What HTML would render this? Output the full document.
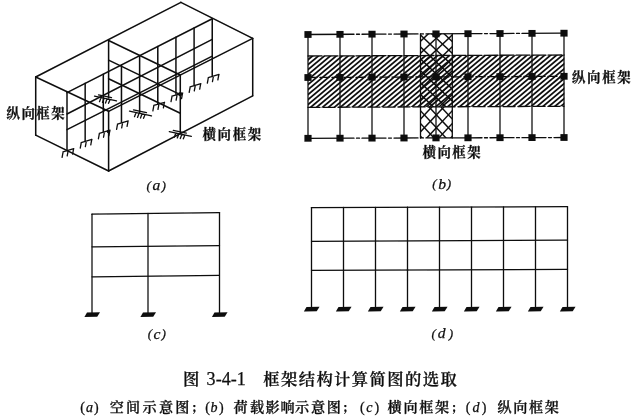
<!DOCTYPE html>
<html lang="zh-CN">
<head>
<meta charset="utf-8">
<title>图 3-4-1 框架结构计算简图的选取</title>
<style>
html,body{margin:0;padding:0;background:#fff;}
body{width:640px;height:418px;overflow:hidden;position:relative;font-family:"Liberation Serif","Noto Serif CJK SC",serif;color:#111;}
svg{position:absolute;left:0;top:0;display:block;}
.ln line,.ln path{stroke:#0c0c0c;stroke-width:1.3;fill:none;stroke-linecap:round;}
.la line{stroke-width:1.5;}
.sup path{stroke-width:1.3;}
text{font-family:"Liberation Serif","Noto Serif CJK SC",serif;fill:#0c0c0c;stroke:#0c0c0c;stroke-width:0.25px;stroke-linejoin:round;}
.it{font-style:italic;}
</style>
</head>
<body>
<svg width="640" height="418" viewBox="0 0 640 418">
<defs>
<filter id="soft" x="-2%" y="-2%" width="104%" height="104%"><feGaussianBlur stdDeviation="0.42"/></filter>
</defs>
<rect width="640" height="418" fill="#fff"/>
<g filter="url(#soft)">
<g id="fig-a" class="ln la">
<line x1="35.7" y1="77" x2="35.7" y2="135.2"/>
<line x1="35.7" y1="135.2" x2="108.6" y2="171"/>
<line x1="108.6" y1="171" x2="108.6" y2="111.3"/>
<line x1="35.7" y1="77" x2="108.6" y2="111.3"/>
<line x1="35.7" y1="77" x2="180.9" y2="2.3"/>
<line x1="180.9" y1="2.3" x2="252.7" y2="38.4"/>
<line x1="252.7" y1="38.4" x2="252.7" y2="95.8"/>
<line x1="108.6" y1="171" x2="252.7" y2="95.8"/>
<line x1="108.6" y1="111.3" x2="252.7" y2="38.4"/>
<line x1="67" y1="92.6" x2="212.25" y2="18.75"/>
<line x1="67" y1="114" x2="212.25" y2="39.4"/>
<line x1="67" y1="129.6" x2="212.25" y2="56.2"/>
<line x1="67" y1="92.6" x2="67" y2="150"/>
<line x1="85.16" y1="83.37" x2="85.16" y2="140.72"/>
<line x1="103.31" y1="74.14" x2="103.31" y2="131.44"/>
<line x1="121.47" y1="64.91" x2="121.47" y2="122.16"/>
<line x1="139.62" y1="55.67" x2="139.62" y2="112.88"/>
<line x1="157.78" y1="46.44" x2="157.78" y2="103.59"/>
<line x1="175.94" y1="37.21" x2="175.94" y2="94.31"/>
<line x1="194.09" y1="27.98" x2="194.09" y2="85.03"/>
<line x1="212.25" y1="18.75" x2="212.25" y2="75.75"/>
<line x1="108.6" y1="40.5" x2="180.3" y2="75"/>
<line x1="108.6" y1="60.1" x2="180.3" y2="94.6"/>
<line x1="108.6" y1="78.8" x2="180.3" y2="113.3"/>
<line x1="108.6" y1="40.5" x2="108.6" y2="98"/>
<line x1="180.3" y1="75" x2="180.3" y2="133"/>
</g>
<g id="fig-a-sup" class="ln sup">
<path d="M63 151.9l10.8-3.2M63.1 151.9l-1 5.4M68.2 150.4l-1 5.4M73.6 148.8l-1 5.4"/>
<path d="M81.16 142.62l10.8-3.2M81.26 142.62l-1 5.4M86.36 141.12l-1 5.4M91.76 139.52l-1 5.4"/>
<path d="M99.31 133.34l10.8-3.2M99.41 133.34l-1 5.4M104.51 131.84l-1 5.4M109.91 130.24l-1 5.4"/>
<path d="M117.47 124.06l10.8-3.2M117.57 124.06l-1 5.4M122.67 122.56l-1 5.4M128.07 120.96l-1 5.4"/>
<path d="M153.78 105.49l10.8-3.2M153.88 105.49l-1 5.4M158.98 103.99l-1 5.4M164.38 102.39l-1 5.4"/>
<path d="M171.94 96.21l10.8-3.2M172.04 96.21l-1 5.4M177.14 94.71l-1 5.4M182.54 93.11l-1 5.4"/>
<path d="M190.09 86.93l10.8-3.2M190.19 86.93l-1 5.4M195.29 85.43l-1 5.4M200.69 83.83l-1 5.4"/>
<path d="M208.25 77.65l10.8-3.2M208.35 77.65l-1 5.4M213.45 76.15l-1 5.4M218.85 74.55l-1 5.4"/>
<path d="M94.5 96.1l22 4.8M98.5 94.9l13 2.8M101 97.7l-1.5 4M104 98.4l-1.5 4M107 99.1l-1.5 4M110 99.7l-1.5 3.6"/>
<path d="M129.5 111.1l22 4.8M133.5 109.9l13 2.8M136 112.7l-1.5 4M139 113.4l-1.5 4M142 114.1l-1.5 4M145 114.7l-1.5 3.6"/>
<path d="M169.3 131.6l22 4.8M173.3 130.4l13 2.8M175.8 133.2l-1.5 4M178.8 133.9l-1.5 4M181.8 134.6l-1.5 4M184.8 135.2l-1.5 3.6"/>
</g>
<circle cx="180.2" cy="94.2" r="2.1" fill="#0c0c0c"/>
<circle cx="108.4" cy="131.5" r="1.7" fill="#0c0c0c"/>
<g id="fig-b">
<clipPath id="cb"><polygon points="308,56 564.3,55 564.3,106.3 308,107.4"/></clipPath>
<g clip-path="url(#cb)" stroke="#0c0c0c" stroke-width="1.75">
<line x1="264.47" y1="51.5" x2="188.19" y2="115.5"/>
<line x1="270.4" y1="51.5" x2="194.12" y2="115.5"/>
<line x1="276.33" y1="51.5" x2="200.05" y2="115.5"/>
<line x1="282.26" y1="51.5" x2="205.98" y2="115.5"/>
<line x1="288.19" y1="51.5" x2="211.91" y2="115.5"/>
<line x1="294.12" y1="51.5" x2="217.84" y2="115.5"/>
<line x1="300.05" y1="51.5" x2="223.77" y2="115.5"/>
<line x1="305.98" y1="51.5" x2="229.7" y2="115.5"/>
<line x1="311.91" y1="51.5" x2="235.63" y2="115.5"/>
<line x1="317.84" y1="51.5" x2="241.56" y2="115.5"/>
<line x1="323.77" y1="51.5" x2="247.49" y2="115.5"/>
<line x1="329.7" y1="51.5" x2="253.42" y2="115.5"/>
<line x1="335.63" y1="51.5" x2="259.35" y2="115.5"/>
<line x1="341.56" y1="51.5" x2="265.28" y2="115.5"/>
<line x1="347.49" y1="51.5" x2="271.21" y2="115.5"/>
<line x1="353.42" y1="51.5" x2="277.14" y2="115.5"/>
<line x1="359.35" y1="51.5" x2="283.07" y2="115.5"/>
<line x1="365.28" y1="51.5" x2="289" y2="115.5"/>
<line x1="371.21" y1="51.5" x2="294.93" y2="115.5"/>
<line x1="377.14" y1="51.5" x2="300.86" y2="115.5"/>
<line x1="383.07" y1="51.5" x2="306.79" y2="115.5"/>
<line x1="389" y1="51.5" x2="312.72" y2="115.5"/>
<line x1="394.93" y1="51.5" x2="318.65" y2="115.5"/>
<line x1="400.86" y1="51.5" x2="324.58" y2="115.5"/>
<line x1="406.79" y1="51.5" x2="330.51" y2="115.5"/>
<line x1="412.72" y1="51.5" x2="336.44" y2="115.5"/>
<line x1="418.65" y1="51.5" x2="342.37" y2="115.5"/>
<line x1="424.58" y1="51.5" x2="348.3" y2="115.5"/>
<line x1="430.51" y1="51.5" x2="354.23" y2="115.5"/>
<line x1="436.44" y1="51.5" x2="360.16" y2="115.5"/>
<line x1="442.37" y1="51.5" x2="366.09" y2="115.5"/>
<line x1="448.3" y1="51.5" x2="372.02" y2="115.5"/>
<line x1="454.23" y1="51.5" x2="377.95" y2="115.5"/>
<line x1="460.16" y1="51.5" x2="383.88" y2="115.5"/>
<line x1="466.09" y1="51.5" x2="389.81" y2="115.5"/>
<line x1="472.02" y1="51.5" x2="395.74" y2="115.5"/>
<line x1="477.95" y1="51.5" x2="401.67" y2="115.5"/>
<line x1="483.88" y1="51.5" x2="407.6" y2="115.5"/>
<line x1="489.81" y1="51.5" x2="413.53" y2="115.5"/>
<line x1="495.74" y1="51.5" x2="419.46" y2="115.5"/>
<line x1="501.67" y1="51.5" x2="425.39" y2="115.5"/>
<line x1="507.6" y1="51.5" x2="431.32" y2="115.5"/>
<line x1="513.53" y1="51.5" x2="437.25" y2="115.5"/>
<line x1="519.46" y1="51.5" x2="443.18" y2="115.5"/>
<line x1="525.39" y1="51.5" x2="449.11" y2="115.5"/>
<line x1="531.32" y1="51.5" x2="455.04" y2="115.5"/>
<line x1="537.25" y1="51.5" x2="460.97" y2="115.5"/>
<line x1="543.18" y1="51.5" x2="466.9" y2="115.5"/>
<line x1="549.11" y1="51.5" x2="472.83" y2="115.5"/>
<line x1="555.04" y1="51.5" x2="478.76" y2="115.5"/>
<line x1="560.97" y1="51.5" x2="484.69" y2="115.5"/>
<line x1="566.9" y1="51.5" x2="490.62" y2="115.5"/>
<line x1="572.83" y1="51.5" x2="496.55" y2="115.5"/>
<line x1="578.76" y1="51.5" x2="502.48" y2="115.5"/>
<line x1="584.69" y1="51.5" x2="508.41" y2="115.5"/>
<line x1="590.62" y1="51.5" x2="514.34" y2="115.5"/>
<line x1="596.55" y1="51.5" x2="520.27" y2="115.5"/>
<line x1="602.48" y1="51.5" x2="526.2" y2="115.5"/>
<line x1="608.41" y1="51.5" x2="532.13" y2="115.5"/>
<line x1="614.34" y1="51.5" x2="538.06" y2="115.5"/>
<line x1="620.27" y1="51.5" x2="543.99" y2="115.5"/>
<line x1="626.2" y1="51.5" x2="549.92" y2="115.5"/>
<line x1="632.13" y1="51.5" x2="555.85" y2="115.5"/>
<line x1="638.06" y1="51.5" x2="561.78" y2="115.5"/>
<line x1="643.99" y1="51.5" x2="567.71" y2="115.5"/>
</g>
<clipPath id="cx1"><rect x="420.3" y="33.5" width="32.2" height="73.6"/></clipPath>
<clipPath id="cx2"><rect x="420.3" y="107.1" width="32.2" height="31"/></clipPath>
<g clip-path="url(#cx1)" stroke="#0c0c0c" stroke-width="1.45">
<line x1="280.84" y1="33" x2="359.62" y2="108"/>
<line x1="293.34" y1="33" x2="372.12" y2="108"/>
<line x1="305.84" y1="33" x2="384.62" y2="108"/>
<line x1="318.34" y1="33" x2="397.12" y2="108"/>
<line x1="330.84" y1="33" x2="409.62" y2="108"/>
<line x1="343.34" y1="33" x2="422.12" y2="108"/>
<line x1="355.84" y1="33" x2="434.62" y2="108"/>
<line x1="368.34" y1="33" x2="447.12" y2="108"/>
<line x1="380.84" y1="33" x2="459.62" y2="108"/>
<line x1="393.34" y1="33" x2="472.12" y2="108"/>
<line x1="405.84" y1="33" x2="484.62" y2="108"/>
<line x1="418.34" y1="33" x2="497.12" y2="108"/>
<line x1="430.84" y1="33" x2="509.62" y2="108"/>
<line x1="443.34" y1="33" x2="522.12" y2="108"/>
<line x1="455.84" y1="33" x2="534.62" y2="108"/>
<line x1="468.34" y1="33" x2="547.12" y2="108"/>
<line x1="480.84" y1="33" x2="559.62" y2="108"/>
<line x1="493.34" y1="33" x2="572.12" y2="108"/>
<line x1="505.84" y1="33" x2="584.62" y2="108"/>
<line x1="518.34" y1="33" x2="597.12" y2="108"/>
<line x1="530.84" y1="33" x2="609.62" y2="108"/>
<line x1="543.34" y1="33" x2="622.12" y2="108"/>
<line x1="555.84" y1="33" x2="634.62" y2="108"/>
<line x1="568.34" y1="33" x2="647.12" y2="108"/>
<line x1="580.84" y1="33" x2="659.62" y2="108"/>
<line x1="291.76" y1="33" x2="212.98" y2="108"/>
<line x1="304.26" y1="33" x2="225.48" y2="108"/>
<line x1="316.76" y1="33" x2="237.98" y2="108"/>
<line x1="329.26" y1="33" x2="250.48" y2="108"/>
<line x1="341.76" y1="33" x2="262.98" y2="108"/>
<line x1="354.26" y1="33" x2="275.48" y2="108"/>
<line x1="366.76" y1="33" x2="287.98" y2="108"/>
<line x1="379.26" y1="33" x2="300.48" y2="108"/>
<line x1="391.76" y1="33" x2="312.98" y2="108"/>
<line x1="404.26" y1="33" x2="325.48" y2="108"/>
<line x1="416.76" y1="33" x2="337.98" y2="108"/>
<line x1="429.26" y1="33" x2="350.48" y2="108"/>
<line x1="441.76" y1="33" x2="362.98" y2="108"/>
<line x1="454.26" y1="33" x2="375.48" y2="108"/>
<line x1="466.76" y1="33" x2="387.98" y2="108"/>
<line x1="479.26" y1="33" x2="400.48" y2="108"/>
<line x1="491.76" y1="33" x2="412.98" y2="108"/>
<line x1="504.26" y1="33" x2="425.48" y2="108"/>
<line x1="516.76" y1="33" x2="437.98" y2="108"/>
<line x1="529.26" y1="33" x2="450.48" y2="108"/>
<line x1="541.76" y1="33" x2="462.98" y2="108"/>
<line x1="554.26" y1="33" x2="475.48" y2="108"/>
<line x1="566.76" y1="33" x2="487.98" y2="108"/>
<line x1="579.26" y1="33" x2="500.48" y2="108"/>
<line x1="591.76" y1="33" x2="512.98" y2="108"/>
</g>
<g clip-path="url(#cx2)" stroke="#0c0c0c" stroke-width="1.45">
<line x1="272.06" y1="106" x2="302.99" y2="139"/>
<line x1="284.06" y1="106" x2="314.99" y2="139"/>
<line x1="296.06" y1="106" x2="326.99" y2="139"/>
<line x1="308.06" y1="106" x2="338.99" y2="139"/>
<line x1="320.06" y1="106" x2="350.99" y2="139"/>
<line x1="332.06" y1="106" x2="362.99" y2="139"/>
<line x1="344.06" y1="106" x2="374.99" y2="139"/>
<line x1="356.06" y1="106" x2="386.99" y2="139"/>
<line x1="368.06" y1="106" x2="398.99" y2="139"/>
<line x1="380.06" y1="106" x2="410.99" y2="139"/>
<line x1="392.06" y1="106" x2="422.99" y2="139"/>
<line x1="404.06" y1="106" x2="434.99" y2="139"/>
<line x1="416.06" y1="106" x2="446.99" y2="139"/>
<line x1="428.06" y1="106" x2="458.99" y2="139"/>
<line x1="440.06" y1="106" x2="470.99" y2="139"/>
<line x1="452.06" y1="106" x2="482.99" y2="139"/>
<line x1="464.06" y1="106" x2="494.99" y2="139"/>
<line x1="476.06" y1="106" x2="506.99" y2="139"/>
<line x1="488.06" y1="106" x2="518.99" y2="139"/>
<line x1="500.06" y1="106" x2="530.99" y2="139"/>
<line x1="512.06" y1="106" x2="542.99" y2="139"/>
<line x1="524.06" y1="106" x2="554.99" y2="139"/>
<line x1="536.06" y1="106" x2="566.99" y2="139"/>
<line x1="548.06" y1="106" x2="578.99" y2="139"/>
<line x1="560.06" y1="106" x2="590.99" y2="139"/>
<line x1="300.74" y1="106" x2="269.81" y2="139"/>
<line x1="312.74" y1="106" x2="281.81" y2="139"/>
<line x1="324.74" y1="106" x2="293.81" y2="139"/>
<line x1="336.74" y1="106" x2="305.81" y2="139"/>
<line x1="348.74" y1="106" x2="317.81" y2="139"/>
<line x1="360.74" y1="106" x2="329.81" y2="139"/>
<line x1="372.74" y1="106" x2="341.81" y2="139"/>
<line x1="384.74" y1="106" x2="353.81" y2="139"/>
<line x1="396.74" y1="106" x2="365.81" y2="139"/>
<line x1="408.74" y1="106" x2="377.81" y2="139"/>
<line x1="420.74" y1="106" x2="389.81" y2="139"/>
<line x1="432.74" y1="106" x2="401.81" y2="139"/>
<line x1="444.74" y1="106" x2="413.81" y2="139"/>
<line x1="456.74" y1="106" x2="425.81" y2="139"/>
<line x1="468.74" y1="106" x2="437.81" y2="139"/>
<line x1="480.74" y1="106" x2="449.81" y2="139"/>
<line x1="492.74" y1="106" x2="461.81" y2="139"/>
<line x1="504.74" y1="106" x2="473.81" y2="139"/>
<line x1="516.74" y1="106" x2="485.81" y2="139"/>
<line x1="528.74" y1="106" x2="497.81" y2="139"/>
<line x1="540.74" y1="106" x2="509.81" y2="139"/>
<line x1="552.74" y1="106" x2="521.81" y2="139"/>
<line x1="564.74" y1="106" x2="533.81" y2="139"/>
<line x1="576.74" y1="106" x2="545.81" y2="139"/>
<line x1="588.74" y1="106" x2="557.81" y2="139"/>
</g>
<g class="ln">
<line x1="420.5" y1="34" x2="420.5" y2="138"/>
<line x1="452.3" y1="34" x2="452.3" y2="138"/>
<line x1="308" y1="34.5" x2="308" y2="138.3"/>
<line x1="340" y1="34.34" x2="340" y2="138.2"/>
<line x1="372" y1="34.17" x2="372" y2="138.1"/>
<line x1="404" y1="34.01" x2="404" y2="138"/>
<line x1="436" y1="33.85" x2="436" y2="137.9"/>
<line x1="468" y1="33.69" x2="468" y2="137.8"/>
<line x1="500" y1="33.53" x2="500" y2="137.7"/>
<line x1="532" y1="33.36" x2="532" y2="137.6"/>
<line x1="564" y1="33.2" x2="564" y2="137.5"/>
<line x1="308" y1="34.5" x2="564" y2="33.2" stroke-dasharray="46 2.5 3 2.5 10 0 14 2.5 3 2.5 10 0 14 2.5 3 2.5 42 0 14 2.5 3 2.5 10 0 14 2.5 3 2.5 50 0"/>
<line x1="308" y1="77.5" x2="564" y2="76.3" stroke-dasharray="9 3"/>
<line x1="308" y1="138.3" x2="564" y2="137.5" stroke-dasharray="46 2.5 3 2.5 10 0 14 2.5 3 2.5 10 0 14 2.5 3 2.5 42 0 14 2.5 3 2.5 10 0 14 2.5 3 2.5 10 0 14 2.5 3 2.5 20 0"/>
<line x1="308" y1="56" x2="564" y2="55" stroke-dasharray="14 2"/>
<line x1="308" y1="107.4" x2="564" y2="106.3" stroke-dasharray="12 3"/>
</g>
<rect x="304.4" y="31.1" width="7.2" height="6.8" fill="#0d0d0d"/>
<rect x="304.4" y="74.1" width="7.2" height="6.8" fill="#0d0d0d"/>
<rect x="304.4" y="134.9" width="7.2" height="6.8" fill="#0d0d0d"/>
<rect x="336.4" y="30.94" width="7.2" height="6.8" fill="#0d0d0d"/>
<rect x="336.4" y="73.95" width="7.2" height="6.8" fill="#0d0d0d"/>
<rect x="336.4" y="134.8" width="7.2" height="6.8" fill="#0d0d0d"/>
<rect x="368.4" y="30.77" width="7.2" height="6.8" fill="#0d0d0d"/>
<rect x="368.4" y="73.8" width="7.2" height="6.8" fill="#0d0d0d"/>
<rect x="368.4" y="134.7" width="7.2" height="6.8" fill="#0d0d0d"/>
<rect x="400.4" y="30.61" width="7.2" height="6.8" fill="#0d0d0d"/>
<rect x="400.4" y="73.65" width="7.2" height="6.8" fill="#0d0d0d"/>
<rect x="400.4" y="134.6" width="7.2" height="6.8" fill="#0d0d0d"/>
<rect x="432.4" y="30.45" width="7.2" height="6.8" fill="#0d0d0d"/>
<rect x="432.4" y="73.5" width="7.2" height="6.8" fill="#0d0d0d"/>
<rect x="432.4" y="134.5" width="7.2" height="6.8" fill="#0d0d0d"/>
<rect x="464.4" y="30.29" width="7.2" height="6.8" fill="#0d0d0d"/>
<rect x="464.4" y="73.35" width="7.2" height="6.8" fill="#0d0d0d"/>
<rect x="464.4" y="134.4" width="7.2" height="6.8" fill="#0d0d0d"/>
<rect x="496.4" y="30.13" width="7.2" height="6.8" fill="#0d0d0d"/>
<rect x="496.4" y="73.2" width="7.2" height="6.8" fill="#0d0d0d"/>
<rect x="496.4" y="134.3" width="7.2" height="6.8" fill="#0d0d0d"/>
<rect x="528.4" y="29.96" width="7.2" height="6.8" fill="#0d0d0d"/>
<rect x="528.4" y="73.05" width="7.2" height="6.8" fill="#0d0d0d"/>
<rect x="528.4" y="134.2" width="7.2" height="6.8" fill="#0d0d0d"/>
<rect x="560.4" y="29.8" width="7.2" height="6.8" fill="#0d0d0d"/>
<rect x="560.4" y="72.9" width="7.2" height="6.8" fill="#0d0d0d"/>
<rect x="560.4" y="134.1" width="7.2" height="6.8" fill="#0d0d0d"/>
</g>
<g id="fig-c" class="ln">
<line x1="92" y1="214.2" x2="219.5" y2="212.6"/>
<line x1="92" y1="246.8" x2="219.5" y2="245.7"/>
<line x1="92" y1="276.8" x2="219.5" y2="275.3"/>
<line x1="92" y1="214.2" x2="92" y2="313.5"/>
<line x1="148" y1="213.5" x2="148" y2="313.5"/>
<line x1="219.5" y1="212.6" x2="219.5" y2="313.5"/>
</g>
<polygon points="87,312.5 100,312.3 97.2,316.8 84.4,317.1" fill="#0c0c0c"/>
<polygon points="143,312.5 156,312.3 153.2,316.8 140.4,317.1" fill="#0c0c0c"/>
<polygon points="214.5,312.5 227.5,312.3 224.7,316.8 211.9,317.1" fill="#0c0c0c"/>
<g id="fig-d" class="ln">
<line x1="311.5" y1="207.6" x2="567.5" y2="206.7"/>
<line x1="311.5" y1="241.3" x2="567.5" y2="240.2"/>
<line x1="311.5" y1="270.4" x2="567.5" y2="269.4"/>
<line x1="311.5" y1="207.6" x2="311.5" y2="307.5"/>
<line x1="343.5" y1="207.49" x2="343.5" y2="307.5"/>
<line x1="375.5" y1="207.38" x2="375.5" y2="307.5"/>
<line x1="407.5" y1="207.26" x2="407.5" y2="307.5"/>
<line x1="439.5" y1="207.15" x2="439.5" y2="307.5"/>
<line x1="471.5" y1="207.04" x2="471.5" y2="307.5"/>
<line x1="503.5" y1="206.92" x2="503.5" y2="307.5"/>
<line x1="535.5" y1="206.81" x2="535.5" y2="307.5"/>
<line x1="567.5" y1="206.7" x2="567.5" y2="307.5"/>
</g>
<polygon points="306.5,306.9 319.5,306.7 316.7,311.2 303.9,311.5" fill="#0c0c0c"/>
<polygon points="338.5,306.9 351.5,306.7 348.7,311.2 335.9,311.5" fill="#0c0c0c"/>
<polygon points="370.5,306.9 383.5,306.7 380.7,311.2 367.9,311.5" fill="#0c0c0c"/>
<polygon points="402.5,306.9 415.5,306.7 412.7,311.2 399.9,311.5" fill="#0c0c0c"/>
<polygon points="434.5,306.9 447.5,306.7 444.7,311.2 431.9,311.5" fill="#0c0c0c"/>
<polygon points="466.5,306.9 479.5,306.7 476.7,311.2 463.9,311.5" fill="#0c0c0c"/>
<polygon points="498.5,306.9 511.5,306.7 508.7,311.2 495.9,311.5" fill="#0c0c0c"/>
<polygon points="530.5,306.9 543.5,306.7 540.7,311.2 527.9,311.5" fill="#0c0c0c"/>
<polygon points="562.5,306.9 575.5,306.7 572.7,311.2 559.9,311.5" fill="#0c0c0c"/>
<text x="6.5" y="117.5" font-size="13.4" font-weight="700" letter-spacing="1.5">纵向框架</text>
<text x="202.5" y="138.5" font-size="13.4" font-weight="700" letter-spacing="1.7">横向框架</text>
<text x="572" y="82" font-size="13.4" font-weight="700" letter-spacing="1.7">纵向框架</text>
<text x="422.5" y="156.5" font-size="13.4" font-weight="700" letter-spacing="1.5">横向框架</text>
<text x="146.6" y="189.6" font-size="13.2" font-weight="400" letter-spacing="0" font-style="italic">(</text>
<text x="152.6" y="190.2" font-size="15.6" font-weight="400" letter-spacing="0" font-style="italic">a</text>
<text x="161.6" y="189.6" font-size="13.2" font-weight="400" letter-spacing="0" font-style="italic">)</text>
<text x="432.2" y="188.1" font-size="13.2" font-weight="400" letter-spacing="0" font-style="italic">(</text>
<text x="438.2" y="188.7" font-size="15.6" font-weight="400" letter-spacing="0" font-style="italic">b</text>
<text x="446.8" y="188.1" font-size="13.2" font-weight="400" letter-spacing="0" font-style="italic">)</text>
<text x="147.8" y="338.2" font-size="13.2" font-weight="400" letter-spacing="0" font-style="italic">(</text>
<text x="153.6" y="338.8" font-size="15.6" font-weight="400" letter-spacing="0" font-style="italic">c</text>
<text x="161.6" y="338.2" font-size="13.2" font-weight="400" letter-spacing="0" font-style="italic">)</text>
<text x="431.6" y="337.6" font-size="13.2" font-weight="400" letter-spacing="0" font-style="italic">(</text>
<text x="437.8" y="338.2" font-size="15.6" font-weight="400" letter-spacing="0" font-style="italic">d</text>
<text x="448.8" y="337.6" font-size="13.2" font-weight="400" letter-spacing="0" font-style="italic">)</text>
<text x="183" y="384.7" font-size="16.4" font-weight="600" letter-spacing="1.6">图</text>
<text x="206.6" y="385.2" font-size="18" font-weight="400" letter-spacing="0.05">3-4-1</text>
<text x="263.2" y="384.7" font-size="16.3" font-weight="600" letter-spacing="1.45">框架结构计算简图的选取</text>
<text x="80.3" y="411.6" font-size="14" font-weight="400" letter-spacing="0">(</text>
<text x="86.1" y="411.8" font-size="14" font-weight="400" letter-spacing="0" font-style="italic">a</text>
<text x="94" y="411.6" font-size="14" font-weight="400" letter-spacing="0">)</text>
<text x="109.7 126.1 142.5 158.9 175.3" y="412" font-size="14.1" font-weight="600">空间示意图</text>
<text x="191.3" y="412" font-size="11.5" font-weight="700">；</text>
<text x="205.3" y="411.6" font-size="14" font-weight="400" letter-spacing="0">(</text>
<text x="210.6" y="411.8" font-size="14" font-weight="400" letter-spacing="0" font-style="italic">b</text>
<text x="219" y="411.6" font-size="14" font-weight="400" letter-spacing="0">)</text>
<text x="233.4 250 265.5 280.5 295.1 310.9 326.7" y="412" font-size="14.1" font-weight="600">荷载影响示意图</text>
<text x="342.2" y="412" font-size="11.5" font-weight="700">；</text>
<text x="360.1" y="411.6" font-size="14" font-weight="400" letter-spacing="0">(</text>
<text x="366.3" y="411.8" font-size="14" font-weight="400" letter-spacing="0" font-style="italic">c</text>
<text x="374.4" y="411.6" font-size="14" font-weight="400" letter-spacing="0">)</text>
<text x="387.6 403.4 419.2 435" y="412" font-size="14.1" font-weight="600">横向框架</text>
<text x="451" y="412" font-size="11.5" font-weight="700">；</text>
<text x="465.7" y="411.6" font-size="14" font-weight="400" letter-spacing="0">(</text>
<text x="472.4" y="411.8" font-size="14" font-weight="400" letter-spacing="0" font-style="italic">d</text>
<text x="481.8" y="411.6" font-size="14" font-weight="400" letter-spacing="0">)</text>
<text x="497.4 513.2 529 544.8" y="412" font-size="14.1" font-weight="600">纵向框架</text>
</g>
</svg>
</body>
</html>
